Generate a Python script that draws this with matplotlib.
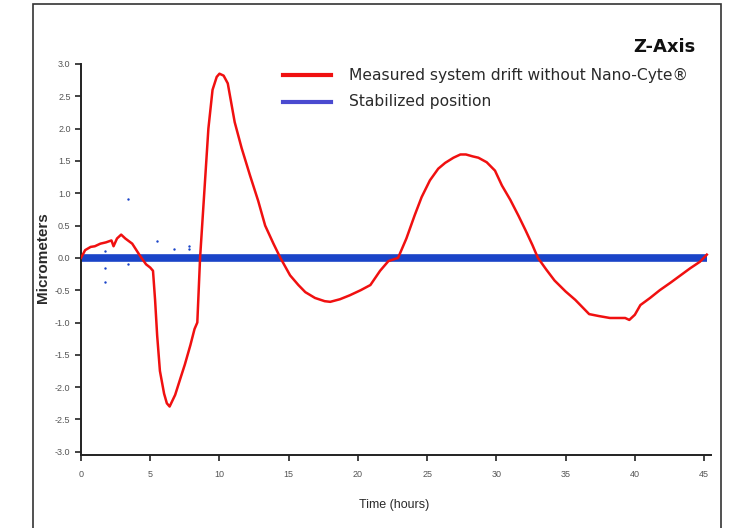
import matplotlib.pyplot as plt
from matplotlib.patches import Rectangle

# measured drift (red)
drift_t = [0.0, 0.3, 0.7, 1.0, 1.4, 1.8, 2.2, 2.35, 2.6, 2.9, 3.2, 3.7, 4.3, 4.7, 5.0, 5.2,
           5.35, 5.5, 5.7, 6.0, 6.2, 6.4, 6.8, 7.2, 7.5, 7.9, 8.2, 8.4, 8.6, 8.9, 9.2,
           9.5, 9.8, 10.0, 10.3, 10.6, 11.1, 11.6, 12.2, 12.8, 13.3, 13.9, 14.4, 15.1,
           15.7, 16.2, 16.9, 17.6, 18.0, 18.7, 19.4, 20.2, 20.9, 21.6, 22.2, 22.9, 23.5,
           24.1, 24.6, 25.2, 25.8, 26.3, 26.9, 27.4, 27.8, 28.3, 28.7, 29.3, 29.9, 30.4,
           31.0, 31.6, 32.1, 32.6, 33.0, 33.6, 34.2, 35.0, 35.7, 36.2, 36.7, 37.4, 38.2,
           38.8, 39.3, 39.6, 40.0, 40.4, 41.1, 41.8, 42.6, 43.3, 44.0, 44.7, 45.2]
drift_v = [0.0, 0.12, 0.17, 0.18, 0.22, 0.24, 0.27, 0.18, 0.3, 0.36, 0.3, 0.22, 0.02, -0.1,
           -0.15, -0.2, -0.65, -1.2, -1.75, -2.1, -2.25, -2.3, -2.12, -1.85, -1.65, -1.35,
           -1.1, -1.0, 0.0, 1.0, 2.0, 2.6, 2.8, 2.85, 2.82, 2.7, 2.1, 1.7, 1.28, 0.88,
           0.5, 0.22, 0.0, -0.27, -0.42, -0.53, -0.62, -0.67, -0.68, -0.64, -0.58, -0.5,
           -0.42, -0.2, -0.05, 0.0, 0.3, 0.66, 0.94, 1.2, 1.38, 1.47, 1.55, 1.6, 1.6, 1.57,
           1.55, 1.48, 1.35, 1.12, 0.9, 0.65, 0.43, 0.2, 0.0, -0.18, -0.35, -0.52, -0.65,
           -0.76, -0.87, -0.9, -0.93, -0.93, -0.93, -0.96, -0.88, -0.73, -0.62, -0.5, -0.38,
           -0.27, -0.16, -0.06, 0.05]

# stabilized position (blue): flat band plus a few stray points
stable_t = [0.0, 45.2]
stable_v = [0.0, 0.0]
outlier_t = [1.7, 1.7, 1.7, 3.4, 3.4, 5.5, 6.7, 7.8, 7.8]
outlier_v = [0.1, -0.15, -0.38, 0.91, -0.1, 0.26, 0.14, 0.18, 0.14]

xticks = [0, 5, 10, 15, 20, 25, 30, 35, 40, 45]
yticks = [3.0, 2.5, 2.0, 1.5, 1.0, 0.5, 0.0, -0.5, -1.0, -1.5, -2.0, -2.5, -3.0]

RED = "#f01010"
BLUE = "#1a44c8"
LEG_BLUE = "#4a4ad0"
TEXT = "#2a2a2a"
NARROW = ["Liberation Sans Narrow", "Liberation Sans", "DejaVu Sans"]

fig = plt.figure(figsize=(7.35, 5.28), dpi=100)
fig.patches.append(Rectangle((33 / 735, -0.01), (721 - 33) / 735, 1 - 4 / 528 + 0.01,
                             transform=fig.transFigure, fill=False, edgecolor="#333333",
                             linewidth=1.2))

ax = fig.add_axes([81 / 735, 1 - 455 / 528, (711 - 81) / 735, (455 - 64) / 528])
ax.plot(stable_t, stable_v, color=BLUE, linewidth=5.5, solid_capstyle="butt", zorder=2)
ax.scatter(outlier_t, outlier_v, s=3, color=BLUE, zorder=2, linewidths=0)
ax.plot(drift_t, drift_v, color=RED, linewidth=1.8, zorder=3)

ax.set_xlim(0, 45.5)
ax.set_ylim(-3.05, 3.0)
ax.set_xticks(xticks)
ax.set_yticks(yticks)
ax.set_yticklabels([f"{v:.1f}" for v in yticks])
for s in ["top", "right"]:
    ax.spines[s].set_visible(False)
for s in ["left", "bottom"]:
    ax.spines[s].set_linewidth(1.4)
    ax.spines[s].set_color("#222222")
ax.tick_params(axis="both", labelsize=6.5, colors="#222222", labelcolor="#555555",
               length=4, width=1.2)
ax.tick_params(axis="x", pad=7)
for lab in ax.get_xticklabels() + ax.get_yticklabels():
    lab.set_fontfamily(NARROW)

ax.set_xlabel("Time (hours)", fontsize=9, color=TEXT, fontfamily=NARROW)
ax.xaxis.set_label_coords(0.497, -0.128)
ax.xaxis.label.set_verticalalignment("center")
ax.set_ylabel("Micrometers", fontsize=11, color=TEXT, fontweight="bold",
              fontfamily=["Liberation Sans", "DejaVu Sans"])
ax.yaxis.set_label_coords(-0.060, 0.506)
ax.yaxis.label.set_verticalalignment("center")

# legend and title drawn as figure text to match the slide
fig.text(695 / 735, 1 - 47 / 528, "Z-Axis", fontsize=13, fontweight="bold",
         ha="right", va="center", color="#111111")
fig.lines.append(plt.Line2D([283 / 735, 331 / 735], [1 - 75 / 528] * 2,
                            transform=fig.transFigure, color=RED, linewidth=3))
fig.lines.append(plt.Line2D([283 / 735, 331 / 735], [1 - 102 / 528] * 2,
                            transform=fig.transFigure, color=LEG_BLUE, linewidth=3))
fig.text(349 / 735, 1 - 75 / 528, "Measured system drift without Nano-Cyte®",
         fontsize=11.2, ha="left", va="center", color=TEXT)
fig.text(349 / 735, 1 - 102 / 528, "Stabilized position",
         fontsize=11.2, ha="left", va="center", color=TEXT)

fig.savefig("out.png", dpi=100)
